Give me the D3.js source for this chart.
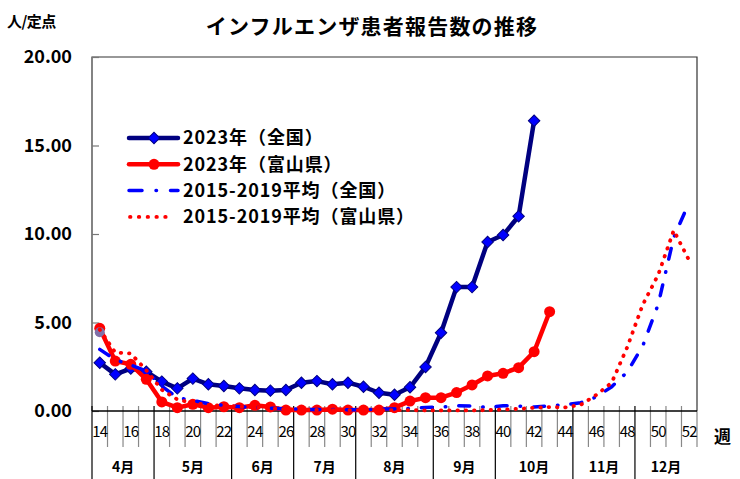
<!DOCTYPE html>
<html>
<head>
<meta charset="UTF-8">
<title>インフルエンザ患者報告数の推移</title>
<style>
  body { margin: 0; background: #fff; }
  svg text { font-family: "Noto Sans CJK JP", "DejaVu Sans", sans-serif; }
</style>
</head>
<body>
<div id="chart"></div>
<script src="https://cdn.jsdelivr.net/npm/d3@7/dist/d3.min.js"></script>
<script>
// 週 (カテゴリ)
var weeks = [14, 15, 16, 17, 18, 19, 20, 21, 22, 23, 24, 25, 26, 27, 28, 29, 30, 31, 32, 33,
             34, 35, 36, 37, 38, 39, 40, 41, 42, 43, 44, 45, 46, 47, 48, 49, 50, 51, 52];

// 2023年（全国） 14〜42週
var national2023 = [2.73, 2.07, 2.40, 2.22, 1.66, 1.28, 1.83, 1.51, 1.41, 1.28, 1.19, 1.15, 1.19,
                    1.60, 1.69, 1.51, 1.60, 1.37, 1.03, 0.92, 1.34, 2.49, 4.42, 7.00, 7.00, 9.55,
                    9.94, 11.00, 16.40];

// 2023年（富山県） 14〜43週
var toyama2023 = [4.67, 2.82, 2.64, 1.79, 0.51, 0.19, 0.38, 0.19, 0.24, 0.19, 0.32, 0.23, 0.05,
                  0.05, 0.05, 0.10, 0.05, 0.05, 0.05, 0.19, 0.56, 0.75, 0.75, 1.04, 1.47, 1.98,
                  2.13, 2.45, 3.35, 5.61];

// 2015-2019平均（全国） 14〜52週
var avgNational = [3.48, 2.90, 2.60, 2.26, 1.40, 0.75, 0.60, 0.42, 0.32, 0.25, 0.20, 0.16, 0.12,
                   0.10, 0.08, 0.08, 0.07, 0.08, 0.10, 0.12, 0.15, 0.20, 0.22, 0.30, 0.28, 0.20,
                   0.30, 0.28, 0.22, 0.30, 0.35, 0.47, 0.79, 1.37, 2.20, 3.67, 6.03, 9.80, 11.80];

// 2015-2019平均（富山県） 14〜52週
var avgToyama = [4.60, 3.30, 3.25, 2.30, 1.20, 0.65, 0.45, 0.35, 0.30, 0.25, 0.20, 0.15, 0.10,
                 0.08, 0.06, 0.05, 0.05, 0.05, 0.05, 0.05, 0.05, 0.03, 0.03, 0.03, 0.03, 0.05,
                 0.08, 0.12, 0.18, 0.22, 0.20, 0.35, 0.90, 1.60, 3.60, 6.00, 7.70, 10.20, 8.50];

// 14週に残っている紫のマーカー
var extraMarker = [4.45];

var yTicks = [0, 5, 10, 15, 20];
var weekLabels = [14, 16, 18, 20, 22, 24, 26, 28, 30, 32, 34, 36, 38, 40, 42, 44, 46, 48, 50, 52];
var monthLabels = ["4月", "5月", "6月", "7月", "8月", "9月", "10月", "11月", "12月"];
var monthFirstWeek = [14, 18, 23, 27, 31, 36, 40, 45, 49];

var legendNames = ["2023年（全国）", "2023年（富山県）", "2015-2019平均（全国）", "2015-2019平均（富山県）"];

var width = 740,
    height = 479,
    plot = { left: 92, right: 697, top: 57, bottom: 411 };

var svg = d3.select("#chart")
    .append("svg")
    .attr("width", width)
    .attr("height", height);

var x = d3.scaleBand()
    .domain(weeks)
    .range([plot.left, plot.right])
    .padding(0);
var bw = x.bandwidth();
function cx(w) { return x(w) + bw / 2; }

var y = d3.scaleLinear()
    .domain([0, 20])
    .range([plot.bottom, plot.top]);

// 枠
svg.append("path")
    .attr("d", "M" + plot.left + "," + plot.bottom + "V" + plot.top + "H" + plot.right + "V" + plot.bottom)
    .attr("fill", "none")
    .attr("stroke", "#333")
    .attr("stroke-width", 1.2);

// y軸 (内向き目盛)
var yAxis = d3.axisLeft(y)
    .tickValues(yTicks)
    .tickFormat(d3.format(".2f"))
    .tickSizeInner(-7)
    .tickSizeOuter(0)
    .tickPadding(20);
var gy = svg.append("g")
    .attr("transform", "translate(" + plot.left + ",0)")
    .call(yAxis);
gy.select(".domain").remove();
gy.selectAll(".tick line").attr("stroke", "#777").attr("stroke-width", 1.2);
gy.selectAll("text")
    .attr("font-size", "18px")
    .attr("font-weight", "bold")
    .attr("fill", "#000");

// x軸: 区切り線
var boundaries = weeks.concat([null]);
svg.append("g")
    .selectAll("line")
    .data(boundaries)
    .join("line")
    .attr("x1", function(d) { return d === null ? plot.right : x(d); })
    .attr("x2", function(d) { return d === null ? plot.right : x(d); })
    .attr("y1", plot.bottom - 5)
    .attr("y2", function(d) {
        return (d !== null && monthFirstWeek.indexOf(d) >= 0) ? height : plot.bottom + 36;
    })
    .attr("stroke", function(d) {
        return (d !== null && monthFirstWeek.indexOf(d) >= 0) ? "#000" : "#888";
    })
    .attr("stroke-width", 1.2);

svg.append("line")
    .attr("x1", plot.left)
    .attr("x2", plot.right)
    .attr("y1", plot.bottom)
    .attr("y2", plot.bottom)
    .attr("stroke", "#000")
    .attr("stroke-width", 1.3);

// 週ラベル
var xAxis = d3.axisBottom(x)
    .tickValues(weekLabels)
    .tickSize(0)
    .tickPadding(0);
var gx = svg.append("g")
    .attr("transform", "translate(0," + plot.bottom + ")")
    .call(xAxis);
gx.select(".domain").remove();
gx.selectAll("text")
    .attr("y", 21)
    .attr("dy", "0.35em")
    .attr("font-size", "15px")
    .attr("letter-spacing", "-0.8px")
    .attr("fill", "#000");

// 月ラベル
svg.append("g")
    .selectAll("text")
    .data(monthLabels)
    .join("text")
    .attr("x", function(d, i) {
        var start = x(monthFirstWeek[i]);
        var end = i + 1 < monthFirstWeek.length ? x(monthFirstWeek[i + 1]) : plot.right;
        return (start + end) / 2;
    })
    .attr("y", 467)
    .attr("dy", "0.35em")
    .attr("text-anchor", "middle")
    .attr("font-size", "14px")
    .attr("font-weight", "bold")
    .text(function(d) { return d; });

// 系列
var line = d3.line()
    .x(function(d) { return cx(d.w); })
    .y(function(d) { return y(d.v); });

function toPoints(arr) {
    return arr.map(function(v, i) { return { w: weeks[i], v: v }; });
}

var ptsNat = toPoints(national2023);
var ptsToy = toPoints(toyama2023);
var ptsAvgNat = toPoints(avgNational);
var ptsAvgToy = toPoints(avgToyama);

var diamond = d3.symbol().type(d3.symbolSquare).size(66);

// 2023 全国
svg.append("path")
    .datum(ptsNat)
    .attr("d", line)
    .attr("fill", "none")
    .attr("stroke", "#000080")
    .attr("stroke-width", 4.5)
    .attr("stroke-linejoin", "round");
svg.append("g")
    .selectAll("path")
    .data(ptsNat)
    .join("path")
    .attr("d", diamond)
    .attr("transform", function(d) { return "translate(" + cx(d.w) + "," + y(d.v) + ") rotate(45)"; })
    .attr("fill", "#0000ff")
    .attr("stroke", "#000080")
    .attr("stroke-width", 1);

// 2023 富山県
svg.append("path")
    .datum(ptsToy)
    .attr("d", line)
    .attr("fill", "none")
    .attr("stroke", "#ff0000")
    .attr("stroke-width", 4.5)
    .attr("stroke-linejoin", "round");
svg.append("g")
    .selectAll("circle")
    .data(ptsToy)
    .join("circle")
    .attr("cx", function(d) { return cx(d.w); })
    .attr("cy", function(d) { return y(d.v); })
    .attr("r", 5.5)
    .attr("fill", "#ff0000");

svg.append("g")
    .selectAll("circle")
    .data(extraMarker)
    .join("circle")
    .attr("cx", cx(weeks[0]))
    .attr("cy", function(d) { return y(d); })
    .attr("r", 5)
    .attr("fill", "#8070a8");

// 2015-2019 全国
svg.append("path")
    .datum(ptsAvgNat)
    .attr("d", line)
    .attr("fill", "none")
    .attr("stroke", "#0000ff")
    .attr("stroke-width", 3.5)
    .attr("stroke-linecap", "round")
    .attr("stroke-dasharray", "11,13,0.5,13");

// 2015-2019 富山県
svg.append("path")
    .datum(ptsAvgToy)
    .attr("d", line)
    .attr("fill", "none")
    .attr("stroke", "#ff0000")
    .attr("stroke-width", 3.8)
    .attr("stroke-linecap", "round")
    .attr("stroke-dasharray", "0.5,7.8");

// 凡例
var legend = svg.append("g");
var lg = legend.selectAll("g")
    .data(legendNames)
    .join("g")
    .attr("transform", function(d, i) { return "translate(129," + (138 + i * 26.3) + ")"; });

lg.append("line")
    .attr("x1", function(d, i) { return i === 3 ? 1 : 0; })
    .attr("x2", function(d, i) { return i === 3 ? 45 : 49; })
    .attr("stroke", function(d, i) { return (i === 0) ? "#000080" : (i === 2 ? "#0000ff" : "#ff0000"); })
    .attr("stroke-width", function(d, i) { return i < 2 ? 4.5 : (i === 2 ? 3.5 : 3.8); })
    .attr("stroke-linecap", "round")
    .attr("stroke-dasharray", function(d, i) {
        return i === 2 ? "13,14,0.5,14" : (i === 3 ? "0.5,8.3" : null);
    });

lg.filter(function(d, i) { return i === 0; })
    .append("path")
    .attr("d", diamond)
    .attr("transform", "translate(25,0) rotate(45)")
    .attr("fill", "#0000ff")
    .attr("stroke", "#000080");
lg.filter(function(d, i) { return i === 1; })
    .append("circle")
    .attr("cx", 25)
    .attr("r", 5.5)
    .attr("fill", "#ff0000");

lg.append("text")
    .attr("x", 54)
    .attr("dy", "0.36em")
    .attr("font-size", "18px")
    .attr("font-weight", "bold")
    .attr("letter-spacing", "0.9px")
    .text(function(d) { return d; });

// タイトル等
svg.append("text")
    .attr("x", 372)
    .attr("y", 27)
    .attr("dy", "0.35em")
    .attr("text-anchor", "middle")
    .attr("font-size", "21px")
    .attr("font-weight", "bold")
    .attr("letter-spacing", "1.2px")
    .text("インフルエンザ患者報告数の推移");

svg.append("text")
    .attr("x", 7)
    .attr("y", 22)
    .attr("dy", "0.35em")
    .attr("font-size", "15px")
    .attr("font-weight", "bold")
    .attr("letter-spacing", "-0.5px")
    .text("人/定点");

svg.append("text")
    .attr("x", 714)
    .attr("y", 437)
    .attr("dy", "0.35em")
    .attr("font-size", "17px")
    .attr("font-weight", "bold")
    .text("週");
</script>
</body>
</html>
